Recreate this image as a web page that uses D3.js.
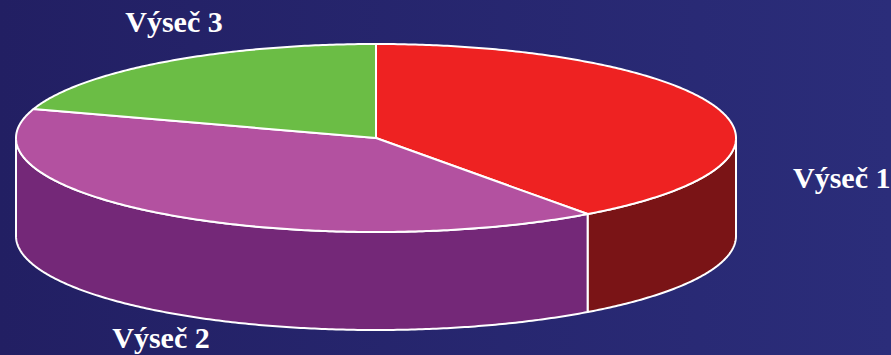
<!DOCTYPE html>
<html>
<head>
<meta charset="utf-8">
<script src="https://cdn.jsdelivr.net/npm/d3@7"></script>
<style>
  html, body { margin: 0; padding: 0; background: #25246e; }
  svg { display: block; }
</style>
</head>
<body>
<svg id="chart" width="891" height="355"></svg>
<script>
// ---- data ----
const categories = ["Výseč 1", "Výseč 2", "Výseč 3"];
const values = [40, 40, 20];
const topColors = ["#ee2222", "#b351a0", "#6bbd45"];
const sideColors = ["#7a1416", "#742878", "#4a8a2e"];

// ---- layout ----
const W = 891, H = 355;
const cx = 376, cy = 138, rx = 360, ry = 94, depth = 98;
const labelPos = [
  { x: 793, y: 188, anchor: "start" },
  { x: 161, y: 348, anchor: "middle" },
  { x: 174, y: 32, anchor: "middle" }
];

const svg = d3.select("#chart");
const defs = svg.append("defs");
const grad = defs.append("linearGradient").attr("id", "bg")
  .attr("x1", "0%").attr("y1", "0%").attr("x2", "100%").attr("y2", "0%");
grad.append("stop").attr("offset", "0%").attr("stop-color", "#221f63");
grad.append("stop").attr("offset", "100%").attr("stop-color", "#2b2d7a");
svg.append("rect").attr("width", W).attr("height", H).attr("fill", "url(#bg)");

const pie = d3.pie().sort(null).startAngle(0).endAngle(2 * Math.PI);
const arcs = pie(values);

const px = a => cx + rx * Math.sin(a);
const py = (a, off = 0) => cy - ry * Math.cos(a) + off;

function arcPts(a0, a1, off) {
  const n = Math.max(2, Math.ceil(Math.abs(a1 - a0) / 0.01));
  const pts = [];
  for (let i = 0; i <= n; i++) {
    const a = a0 + (a1 - a0) * i / n;
    pts.push([px(a), py(a, off)]);
  }
  return pts;
}

function topPath(d) {
  const pts = [[cx, cy]].concat(arcPts(d.startAngle, d.endAngle, 0));
  return d3.line()(pts) + "Z";
}

function sidePath(d) {
  const a0 = Math.max(d.startAngle, Math.PI / 2);
  const a1 = Math.min(d.endAngle, 3 * Math.PI / 2);
  if (a1 <= a0) return null;
  const top = arcPts(a0, a1, 0);
  const bot = arcPts(a1, a0, depth);
  return d3.line()(top.concat(bot)) + "Z";
}

const g = svg.append("g");

// sides
g.selectAll("path.side")
  .data(arcs.filter(d => sidePath(d)))
  .join("path")
  .attr("class", "side")
  .attr("d", sidePath)
  .attr("fill", d => sideColors[d.index])
  .attr("stroke", "#ffffff")
  .attr("stroke-width", 2)
  .attr("stroke-linejoin", "round");

// tops
g.selectAll("path.top")
  .data(arcs)
  .join("path")
  .attr("class", "top")
  .attr("d", topPath)
  .attr("fill", d => topColors[d.index])
  .attr("stroke", "#ffffff")
  .attr("stroke-width", 2)
  .attr("stroke-linejoin", "round");

// labels
svg.selectAll("text.lbl")
  .data(categories)
  .join("text")
  .attr("class", "lbl")
  .attr("x", (d, i) => labelPos[i].x)
  .attr("y", (d, i) => labelPos[i].y)
  .attr("text-anchor", (d, i) => labelPos[i].anchor)
  .attr("fill", "#ffffff")
  .attr("font-family", "'Liberation Serif', 'Times New Roman', serif")
  .attr("font-weight", "bold")
  .attr("font-size", "30px")
  .text(d => d);
</script>
</body>
</html>
